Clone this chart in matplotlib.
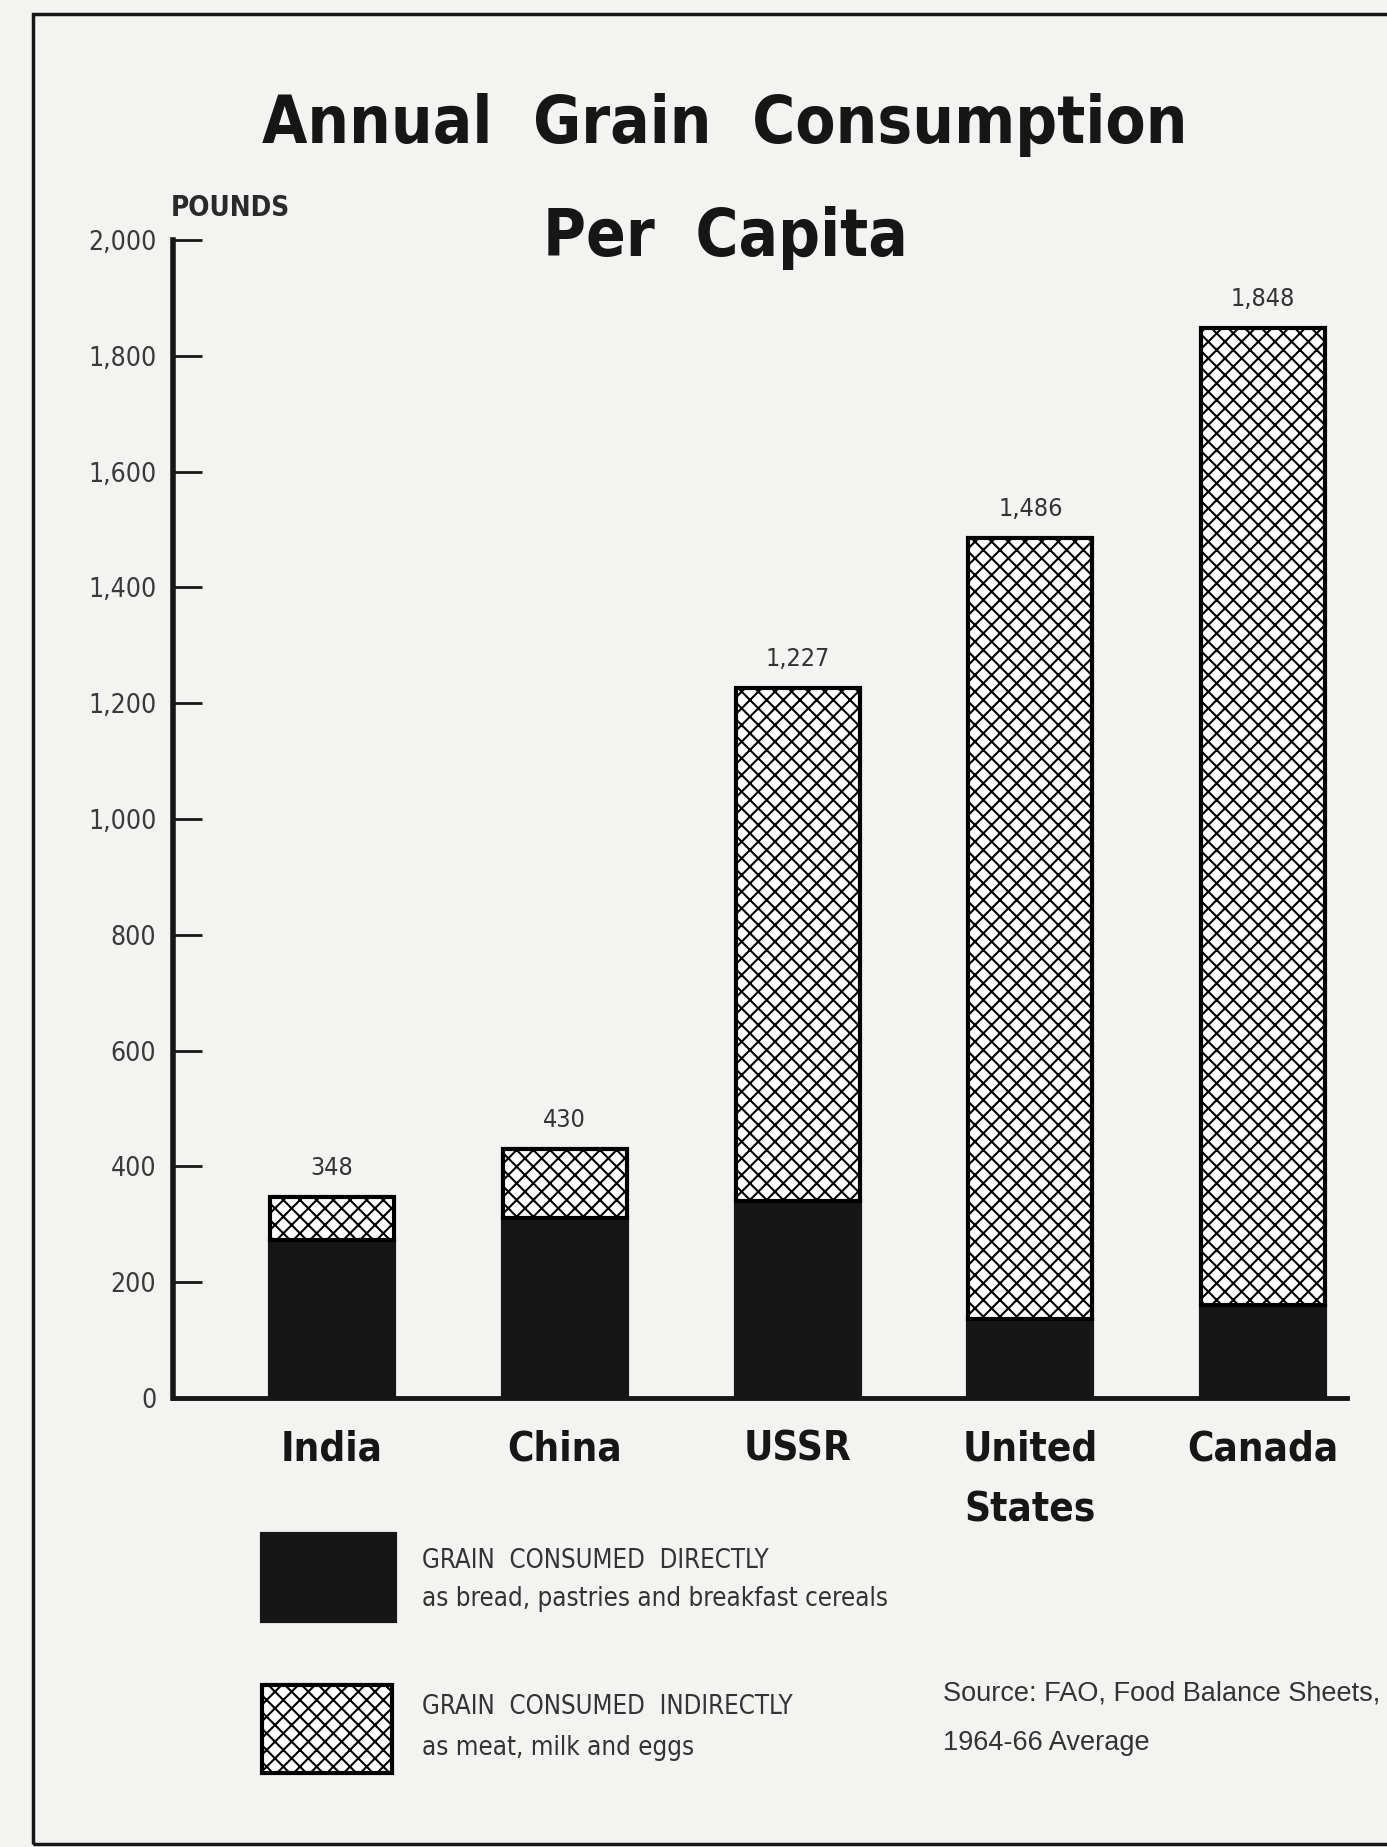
import numpy as np
import matplotlib
matplotlib.use('Agg')
from matplotlib import pyplot as plt
from matplotlib.patches import Rectangle

countries = ['India', 'China', 'USSR', 'United\nStates', 'Canada']
total = np.array([348, 430, 1227, 1486, 1848])
direct = np.array([273, 311, 340, 137, 161])
indirect = total - direct
yticks = list(range(0, 2001, 200))
ytick_labels = ['{:,}'.format(v) for v in yticks]

W, H = 1387, 1847
NARROW = ['DejaVu Sans']
PAPER = '#f3f3f1'
INK = '#161616'

plt.rcParams['hatch.linewidth'] = 1.5


def px_box(x0, y0, x1, y1):
    # pixel box (top-left origin) -> figure fraction rect
    return [x0 / W, 1 - y1 / H, (x1 - x0) / W, (y1 - y0) / H]


fig = plt.figure(figsize=(W / 100, H / 100), dpi=100, facecolor=PAPER)

# outer frame (right side runs off the page)
fig.add_artist(Rectangle((33 / W, 1 - 1844 / H), 1.2, (1844 - 14) / H,
                         transform=fig.transFigure, fill=False, lw=2.5, ec=INK))

# title
title_font = dict(fontsize=47, fontweight='bold', family=NARROW, fontstretch='condensed',
                  color=INK, ha='center', va='center')
fig.text(725 / W, 1 - 125 / H, 'Annual  Grain  Consumption', **title_font)
fig.text(725 / W, 1 - 238 / H, 'Per  Capita', **title_font)

ax = fig.add_axes(px_box(173, 240, 1347, 1398))
ax.set_facecolor('none')
x = np.arange(len(countries))
bw = 0.533

ax.bar(x, direct, width=bw, color=INK, edgecolor=INK, lw=3, zorder=3)
ax.bar(x, indirect, bottom=direct, width=bw, facecolor='white', edgecolor='black',
       hatch='xx', lw=3, zorder=3)

for xi, t in zip(x, total):
    ax.annotate('{:,}'.format(t), (xi, t), xytext=(0, 12), textcoords='offset points',
                ha='center', va='bottom', fontsize=18, family=NARROW,
                fontstretch='condensed', color='#333333')

ax.set_xlim(-0.683, 4.36)
ax.set_ylim(0, 2000)
ax.set_yticks(yticks)
ax.set_yticklabels(ytick_labels, family=NARROW, fontstretch='condensed',
                   fontsize=19, color='#3a3a3a')
ax.set_xticks(x)
ax.set_xticklabels(countries, family=NARROW, fontstretch='condensed', fontsize=29,
                   fontweight='bold', color=INK, linespacing=1.65)
ax.tick_params(axis='y', direction='in', length=21, width=2, pad=12, color=INK)
ax.tick_params(axis='x', length=0, pad=23)
for s in ['top', 'right']:
    ax.spines[s].set_visible(False)
ax.spines['left'].set_linewidth(4)
ax.spines['bottom'].set_linewidth(3.5)
ax.spines['left'].set_color(INK)
ax.spines['bottom'].set_color(INK)

fig.text(171 / W, 1 - 208 / H, 'POUNDS', ha='left', va='center', fontsize=20,
         fontweight='bold', family=NARROW, fontstretch='condensed', color='#2a2a2a')

# legend
fig.add_artist(Rectangle((262 / W, 1 - 1621 / H), (395 - 262) / W, (1621 - 1534) / H,
                         transform=fig.transFigure, facecolor=INK, edgecolor=INK, lw=3))
fig.add_artist(Rectangle((262 / W, 1 - 1773 / H), (392 - 262) / W, (1773 - 1685) / H,
                         transform=fig.transFigure, facecolor='white', edgecolor='black',
                         hatch='xx', lw=3))
leg_font = dict(family=NARROW, fontstretch='condensed', fontsize=18.5, color='#333333',
                ha='left', va='center')
fig.text(422 / W, 1 - 1561 / H, 'GRAIN  CONSUMED  DIRECTLY', **leg_font)
fig.text(422 / W, 1 - 1599 / H, 'as bread, pastries and breakfast cereals', **leg_font)
fig.text(422 / W, 1 - 1707 / H, 'GRAIN  CONSUMED  INDIRECTLY', **leg_font)
fig.text(422 / W, 1 - 1748 / H, 'as meat, milk and eggs', **leg_font)

src_font = dict(family=['Liberation Sans', 'DejaVu Sans'], fontsize=19.5, color='#333333',
                ha='left', va='center')
fig.text(943 / W, 1 - 1693 / H, 'Source: FAO, Food Balance Sheets,', **src_font)
fig.text(943 / W, 1 - 1743 / H, '1964-66 Average', **src_font)

fig.savefig('out.png', dpi=100, facecolor=PAPER)
